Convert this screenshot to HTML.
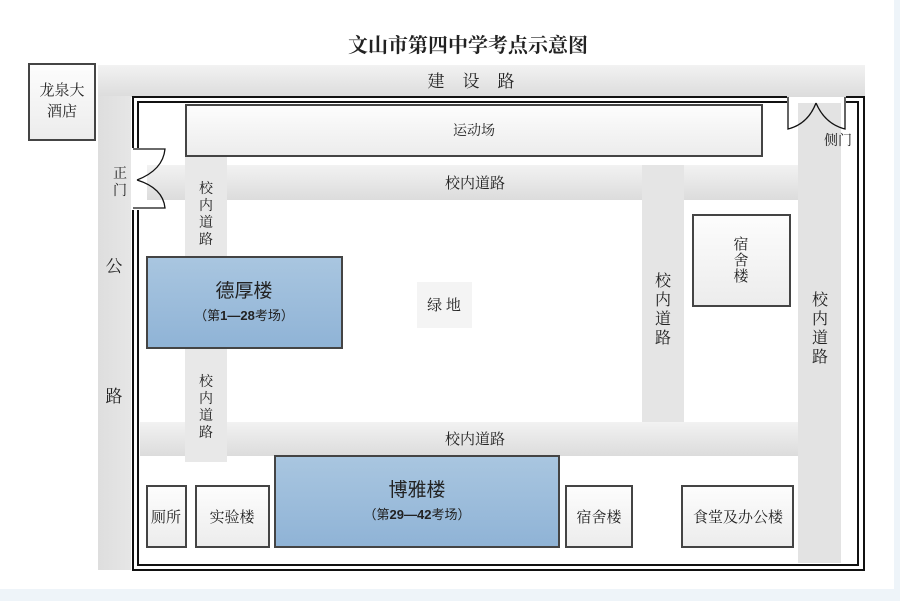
<!DOCTYPE html>
<html><head><meta charset="utf-8"><style>
body{margin:0;background:#fff;}
svg text{font-family:"Liberation Serif","Noto Serif CJK SC","Noto Sans CJK SC",serif;fill:#222;}
</style></head><body>
<svg width="900" height="601" viewBox="0 0 900 601" xmlns="http://www.w3.org/2000/svg">
<defs>
<linearGradient id="rd" x1="0" y1="0" x2="0" y2="1"><stop offset="0" stop-color="#f2f2f2"/><stop offset="1" stop-color="#dcdcdc"/></linearGradient>
<linearGradient id="rv" x1="0" y1="0" x2="1" y2="0"><stop offset="0" stop-color="#dedede"/><stop offset="1" stop-color="#e6e6e6"/></linearGradient>
<linearGradient id="bx" x1="0" y1="0" x2="0" y2="1"><stop offset="0" stop-color="#fdfdfd"/><stop offset="1" stop-color="#ececec"/></linearGradient>
<linearGradient id="bl" x1="0" y1="0" x2="0" y2="1"><stop offset="0" stop-color="#a9c6e0"/><stop offset="1" stop-color="#8fb3d6"/></linearGradient>
</defs>
<rect x="0" y="589" width="900" height="12" fill="#eef4f9"/>
<rect x="894" y="0" width="6" height="601" fill="#eef4f9"/>
<text x="468" y="52" font-size="20" text-anchor="middle" font-weight="bold">文山市第四中学考点示意图</text>
<!-- roads -->
<rect x="98" y="65" width="767" height="32" fill="url(#rd)"/>
<rect x="98" y="96" width="33" height="474" fill="url(#rv)"/>
<rect x="798" y="103" width="43" height="460" fill="#e3e3e3"/>
<rect x="147" y="165" width="651" height="35" fill="url(#rd)"/>
<rect x="140" y="422" width="658" height="34" fill="url(#rd)"/>
<rect x="642" y="165" width="42" height="257" fill="#e5e5e5"/>
<rect x="185" y="156" width="42" height="101" fill="#e8e8e8"/>
<rect x="185" y="348" width="42" height="114" fill="#e8e8e8"/>
<text x="480" y="87" font-size="17" text-anchor="middle" letter-spacing="18">建设路</text>
<text x="114" y="272" font-size="17" text-anchor="middle">公</text>
<text x="114" y="402" font-size="17" text-anchor="middle">路</text>
<text x="475" y="188" font-size="15" text-anchor="middle">校内道路</text>
<text x="475" y="444" font-size="15" text-anchor="middle">校内道路</text>
<g font-size="14" text-anchor="middle"><text x="206" y="193">校</text><text x="206" y="210">内</text><text x="206" y="227">道</text><text x="206" y="244">路</text>
<text x="206" y="386">校</text><text x="206" y="403">内</text><text x="206" y="420">道</text><text x="206" y="437">路</text></g>
<g font-size="16" text-anchor="middle"><text x="663" y="286">校</text><text x="663" y="305">内</text><text x="663" y="324">道</text><text x="663" y="343">路</text>
<text x="820" y="305">校</text><text x="820" y="324">内</text><text x="820" y="343">道</text><text x="820" y="362">路</text></g>
<!-- walls -->
<g fill="none" stroke="#111" stroke-width="2">
<path d="M133 148 V97 H787 M846 97 H864 V570 H133 V210"/>
<path d="M138 148 V102 H787 M846 102 H858 V565 H138 V210"/>
</g>
<g fill="none" stroke="#111" stroke-width="1.3">
<path d="M133 149 H165 Q163 170 137 180 M133 208 H165 Q163 188 137 180"/>
<path d="M788 97 V129 Q808 124 816 103 M845 97 V129 Q825 124 816 103"/>
</g>
<text x="120" y="178" font-size="14" text-anchor="middle">正</text>
<text x="120" y="195" font-size="14" text-anchor="middle">门</text>
<text x="838" y="145" font-size="14" text-anchor="middle">侧门</text>
<!-- buildings -->
<g stroke="#444" stroke-width="2">
<rect x="29" y="64" width="66" height="76" fill="url(#bx)"/>
<rect x="186" y="105" width="576" height="51" fill="url(#bx)"/>
<rect x="693" y="215" width="97" height="91" fill="url(#bx)"/>
<rect x="147" y="257" width="195" height="91" fill="url(#bl)"/>
<rect x="275" y="456" width="284" height="91" fill="url(#bl)"/>
<rect x="147" y="486" width="39" height="61" fill="url(#bx)"/>
<rect x="196" y="486" width="73" height="61" fill="url(#bx)"/>
<rect x="566" y="486" width="66" height="61" fill="url(#bx)"/>
<rect x="682" y="486" width="111" height="61" fill="url(#bx)"/>
</g>
<rect x="417" y="282" width="55" height="46" fill="#f4f4f4"/>
<g font-size="15" text-anchor="middle">
<text x="62" y="95">龙泉大</text><text x="62" y="116">酒店</text>
<text x="474" y="135" font-size="14">运动场</text>
<text x="444" y="310">绿 地</text>
<text x="741" y="249">宿</text><text x="741" y="265">舍</text><text x="741" y="281">楼</text>
<text x="166" y="522">厕所</text>
<text x="232" y="522">实验楼</text>
<text x="599" y="522">宿舍楼</text>
<text x="738" y="522">食堂及办公楼</text>
</g>
<g text-anchor="middle" font-family="Liberation Sans,Noto Sans CJK SC,sans-serif">
<text x="244" y="297" font-size="19" style="font-family:'Liberation Sans','Noto Sans CJK SC',sans-serif">德厚楼</text>
<text x="244" y="320" font-size="13" style="font-family:'Liberation Sans','Noto Sans CJK SC',sans-serif">（第<tspan font-weight="bold">1—28</tspan>考场）</text>
<text x="417" y="496" font-size="19" style="font-family:'Liberation Sans','Noto Sans CJK SC',sans-serif">博雅楼</text>
<text x="417" y="519" font-size="13" style="font-family:'Liberation Sans','Noto Sans CJK SC',sans-serif">（第<tspan font-weight="bold">29—42</tspan>考场）</text>
</g>
</svg>
</body></html>
